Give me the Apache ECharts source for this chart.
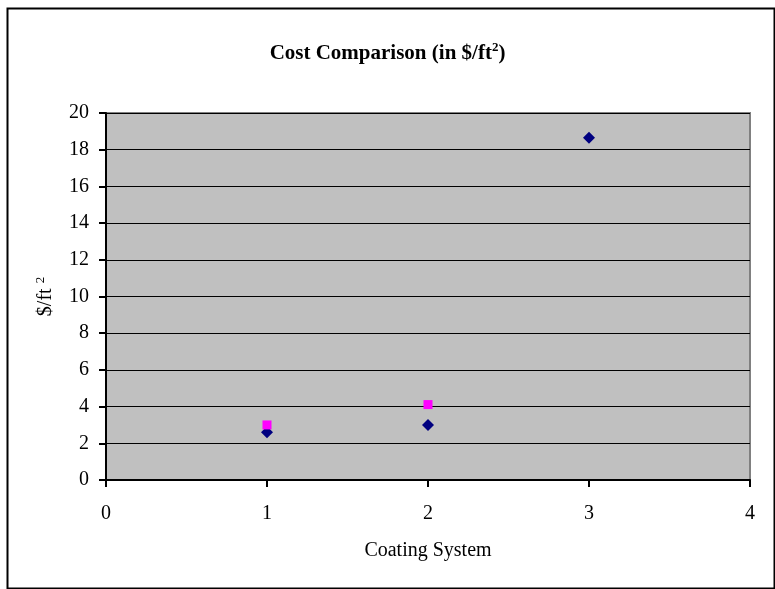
<!DOCTYPE html>
<html><head><meta charset="utf-8">
<script src="https://cdn.jsdelivr.net/npm/echarts@6/dist/echarts.min.js"></script>
<style>html,body{margin:0;padding:0;background:#fff}#c{width:775px;height:589px}</style>
</head><body><div id="c"></div>
<script>
const xTicks = [0, 1, 2, 3, 4];
const yTicks = [0, 2, 4, 6, 8, 10, 12, 14, 16, 18, 20];
const series1X = [1, 2, 3];
const series1Y = [2.6, 3.0, 18.65];
const series2X = [1, 2];
const series2Y = [3.0, 4.11];

const font = '"Liberation Serif", "Times New Roman", serif';
const chart = echarts.init(document.getElementById('c'), null, {renderer: 'canvas'});
chart.setOption({
  animation: false,
  backgroundColor: '#fff',
  graphic: [{
    type: 'rect', left: 5, top: 6, shape: {width: 767, height: 580},
    style: {fill: 'none', stroke: '#000', lineWidth: 2}, z: -1
  }],
  title: {
    text: '{a|Cost Comparison (in $/ft}{s|2}{a|)}',
    left: 'center', top: 36,
    textStyle: {
      rich: {
        a: {fontFamily: font, fontSize: 21, fontWeight: 'bold', color: '#000'},
        s: {fontFamily: font, fontSize: 13, fontWeight: 'bold', color: '#000', verticalAlign: 'top', padding: [0, 0, 12, 0]}
      }
    }
  },
  grid: {left: 106, right: 25, top: 113, bottom: 109, show: true, backgroundColor: '#C0C0C0', borderColor: '#808080', borderWidth: 2},
  xAxis: {
    type: 'value', min: xTicks[0], max: xTicks[xTicks.length - 1], interval: 1,
    name: 'Coating System', nameLocation: 'middle', nameGap: 61,
    nameTextStyle: {fontFamily: font, fontSize: 20, color: '#000'},
    axisLine: {show: true, lineStyle: {color: '#000', width: 2}},
    axisTick: {show: true, inside: false, length: 7, lineStyle: {color: '#000', width: 2}},
    axisLabel: {fontFamily: font, fontSize: 20, color: '#000', margin: 24},
    splitLine: {show: false}
  },
  yAxis: {
    type: 'value', min: yTicks[0], max: yTicks[yTicks.length - 1], interval: 2,
    name: '{a|$/ft }{s|2}', nameLocation: 'middle', nameGap: 49, nameRotate: 90,
    nameTextStyle: {
      rich: {
        a: {fontFamily: font, fontSize: 20, color: '#000'},
        s: {fontFamily: font, fontSize: 13, color: '#000', verticalAlign: 'top', padding: [0, 0, 10, 0]}
      }
    },
    axisLine: {show: true, lineStyle: {color: '#000', width: 2}},
    axisTick: {show: true, inside: false, length: 7, lineStyle: {color: '#000', width: 2}},
    axisLabel: {fontFamily: font, fontSize: 20, color: '#000', margin: 17},
    splitLine: {show: true, lineStyle: {color: '#000', width: 1}}
  },
  series: [
    {
      type: 'scatter', symbol: 'diamond', symbolSize: 12,
      itemStyle: {color: '#000080', opacity: 1},
      data: series1X.map((x, i) => [x, series1Y[i]])
    },
    {
      type: 'scatter', symbol: 'rect', symbolSize: 9,
      itemStyle: {color: '#FF00FF', opacity: 1},
      data: series2X.map((x, i) => [x, series2Y[i]])
    }
  ]
});
</script></body></html>
